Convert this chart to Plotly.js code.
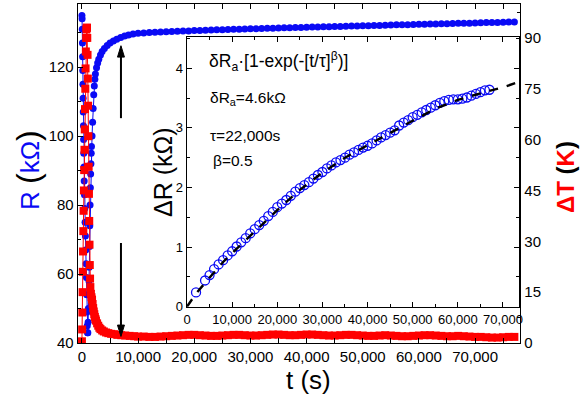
<!DOCTYPE html>
<html>
<head>
<meta charset="utf-8">
<script src="https://cdn.plot.ly/plotly-3.0.1.min.js"></script>
<style>html,body{margin:0;padding:0;background:#fff;}#chart{width:581px;height:403px;}</style>
</head>
<body>
<div id="chart"></div>
<script>
// ---- Main plot: resistance R (kΩ), left axis ----
var rSpikeT = [0,30,60,90,120,150,180,210,240,270,300,330,360,400,450,500,560,620,680,740,800,850,900,950,1000,1050,1100,1150,1200,1250,1300,1350,1400,1450,1500,1550,1600,1650,1700,1800,1900,2000,2100,2200,2300,2400,2600,2800,3000,3300,3600,4000,4500,5000,5600,6200,6900,7600,8300,9100];
var rSpikeR = [135,134,131,127,123,119,115,111,107,103,99,95,91,87,83,79,75,71,67,63,59,54,49,45,43,43,46,50,54,58,62,68,74,80,85,89,92,95,97,100,104,108,112,114.5,116.5,118,119.8,121.2,122.3,123.5,124.5,125.4,126.3,127,127.6,128.1,128.6,129,129.3,129.6];

var tLong = [10000,11000,12000,13000,14000,15000,16000,17000,18000,19000,20000,21000,22000,23000,24000,25000,26000,27000,28000,29000,30000,31000,32000,33000,34000,35000,36000,37000,38000,39000,40000,41000,42000,43000,44000,45000,46000,47000,48000,49000,50000,51000,52000,53000,54000,55000,56000,57000,58000,59000,60000,61000,62000,63000,64000,65000,66000,67000,68000,69000,70000,71000,72000,73000,74000,75000,76000,77000];
var rLong = [129.8,129.9,130.0,130.1,130.2,130.25,130.3,130.4,130.45,130.5,130.6,130.65,130.7,130.75,130.8,130.85,130.9,130.95,131.0,131.05,131.1,131.15,131.2,131.25,131.3,131.35,131.4,131.4,131.45,131.5,131.55,131.6,131.65,131.7,131.7,131.75,131.8,131.85,131.9,131.95,132.0,132.0,132.05,132.1,132.15,132.2,132.25,132.3,132.3,132.35,132.4,132.45,132.5,132.5,132.55,132.6,132.65,132.7,132.7,132.75,132.8,132.85,132.9,132.9,132.95,133.0,133.05,133.1];

// ---- Main plot: temperature rise ΔT (K), right axis ----
var tSpikeT = [0,40,80,120,160,200,250,300,350,400,450,500,550,600,650,700,750,800,850,900,950,1000,1050,1100,1150,1200,1250,1300,1350,1400,1450,1500,1600,1700,1800,1900,2000,2100,2200,2300,2400,2500,2700,2900,3100,3300,3600,3900,4300,4700,5200,5700,6300,7000,7700,8500,9300];
var tSpikeDT = [0.5,4,9,15,21,27,33,39,45,51,57,63,69,75,81,86,90,92.5,93,93,90,85,78,70,61,52,44,36,29,23,19,16.5,14.5,13.5,12.8,11.5,10.3,9.3,8.5,7.7,7.1,6.6,5.8,5.1,4.5,4.1,3.7,3.4,3.1,2.9,2.7,2.6,2.4,2.3,2.2,2.1,2.0];
var dtLong = [1.9,1.9,1.8,1.8,1.9,2.0,2.1,2.2,2.3,2.4,2.4,2.3,2.2,2.1,2.1,2.2,2.3,2.4,2.4,2.3,2.2,2.2,2.3,2.4,2.5,2.5,2.4,2.3,2.3,2.4,2.5,2.5,2.4,2.3,2.2,2.2,2.3,2.4,2.4,2.3,2.2,2.1,2.1,2.2,2.3,2.2,2.1,2.0,2.0,2.1,2.2,2.3,2.3,2.2,2.1,2.0,2.0,2.1,2.0,1.9,1.8,1.8,1.7,1.6,1.6,1.7,1.8,1.8];

// ---- Inset: ΔR (kΩ) vs t ----
var insetT = [2000,4000,5000,6000,7000,8000,9000,10000,11000,12000,13000,14000,15000,16000,17000,18000,19000,20000,21000,22000,23000,24000,25000,26000,27000,28000,29000,30000,31000,32000,33000,34000,35000,36000,37000,38000,39000,40000,41000,42000,43000,44000,45000,46000,47000,48000,49000,50000,51000,52000,53000,54000,55000,56000,57000,58000,59000,60000,61000,62000,63000,64000,65000,66000,67000];
var insetDR = [0.24,0.44,0.53,0.63,0.71,0.78,0.86,0.93,1.01,1.08,1.15,1.23,1.30,1.37,1.44,1.52,1.59,1.67,1.73,1.79,1.86,1.93,1.99,2.04,2.09,2.15,2.21,2.26,2.32,2.37,2.42,2.46,2.50,2.55,2.59,2.63,2.67,2.70,2.74,2.79,2.84,2.88,2.92,2.96,3.04,3.09,3.13,3.18,3.22,3.26,3.30,3.34,3.38,3.42,3.45,3.47,3.48,3.48,3.49,3.51,3.54,3.57,3.60,3.63,3.64];
var fitT  = [0,1000,2000,4000,6000,8000,10000,12000,15000,20000,25000,30000,35000,40000,45000,50000,55000,60000,65000,70000,72700];
var fitDR = [0,0.12,0.22,0.40,0.58,0.75,0.90,1.04,1.26,1.62,1.96,2.25,2.50,2.71,2.92,3.12,3.32,3.47,3.58,3.68,3.75];

var BLUE = '#0a0af5', RED = '#ff0000';
var FONT = 'Arial, "Liberation Sans", sans-serif';

var traces = [
  {x: rSpikeT.concat(tLong), y: rSpikeR.concat(rLong), xaxis:'x', yaxis:'y', mode:'lines+markers', type:'scatter',
   line:{color:BLUE, width:1}, marker:{symbol:'circle', size:7, color:BLUE}},
  {x: tSpikeT.concat(tLong), y: tSpikeDT.concat(dtLong), xaxis:'x', yaxis:'y2', mode:'lines+markers', type:'scatter',
   line:{color:RED, width:1}, marker:{symbol:'square', size:8, color:RED}},
  {x: insetT, y: insetDR, xaxis:'x3', yaxis:'y3', mode:'markers', type:'scatter',
   marker:{symbol:'circle-open', size:9, color:BLUE, line:{width:1.3, color:BLUE}}},
  {x: fitT, y: fitDR, xaxis:'x3', yaxis:'y3', mode:'lines', type:'scatter',
   line:{color:'#000', width:2.4, dash:'dash'}}
];

function px(x){ return (x-78)/442; }
function py(y){ return (343-y)/339; }

var axBase = {showgrid:false, zeroline:false, showline:true, linecolor:'#000', linewidth:1.3,
  ticks:'inside', ticklen:5, tickwidth:1, tickcolor:'#000'};

// arrow positions (annotation geometry, not data)
var arrowT = 6950;

var layout = {
  width:581, height:403,
  margin:{l:78, r:61, t:4, b:60, pad:0},
  paper_bgcolor:'#fff', plot_bgcolor:'#fff',
  showlegend:false,
  font:{family:FONT, size:15, color:'#000'},
  xaxis: Object.assign({}, axBase, {range:[-700,78000], tick0:0, dtick:10000, tickformat:',d', mirror:'allticks',
    tickfont:{size:15}, minor:{dtick:5000, ticks:'inside', ticklen:3, tickcolor:'#000', showgrid:false}}),
  yaxis: Object.assign({}, axBase, {range:[40,138.3], tick0:40, dtick:20, tickfont:{size:15},
    minor:{dtick:10, ticks:'inside', ticklen:3, tickcolor:'#000', showgrid:false}}),
  yaxis2: Object.assign({}, axBase, {overlaying:'y', side:'right', range:[0,100], tick0:0, dtick:15, tickfont:{size:15},
    minor:{dtick:7.5, ticks:'inside', ticklen:3, tickcolor:'#000', showgrid:false}}),
  xaxis3: Object.assign({}, axBase, {domain:[px(187), px(519)], anchor:'y3', range:[0,73550], tick0:0, dtick:10000,
    tickformat:',d', mirror:'allticks', tickfont:{size:13},
    minor:{dtick:5000, ticks:'inside', ticklen:3, tickcolor:'#000', showgrid:false}}),
  yaxis3: Object.assign({}, axBase, {domain:[py(306.7), py(37)], anchor:'x3', range:[0,4.525], tick0:0, dtick:1,
    mirror:'allticks', tickfont:{size:13},
    minor:{dtick:0.5, ticks:'inside', ticklen:3, tickcolor:'#000', showgrid:false}}),
  shapes: [
    {type:'line', xref:'x', yref:'y', x0:arrowT, x1:arrowT, y0:105.2, y1:123.6, line:{color:'#000', width:2}},
    {type:'path', xref:'x', yref:'y', path:'M '+arrowT+' 126.2 L '+(arrowT-620)+' 122.9 L '+(arrowT+620)+' 122.9 Z',
     fillcolor:'#000', line:{color:'#000', width:1}},
    {type:'line', xref:'x', yref:'y', x0:arrowT, x1:arrowT, y0:69, y1:44.6, line:{color:'#000', width:2}},
    {type:'path', xref:'x', yref:'y', path:'M '+arrowT+' 41.9 L '+(arrowT-620)+' 45.2 L '+(arrowT+620)+' 45.2 Z',
     fillcolor:'#000', line:{color:'#000', width:1}}
  ],
  annotations: [
    {xref:'paper', yref:'paper', x:px(28), y:py(170), textangle:-90, showarrow:false, xanchor:'center', yanchor:'middle',
     text:'<span style="color:'+BLUE+'">R</span> <span style="font-size:32px">(</span><span style="color:'+BLUE+'">kΩ</span><span style="font-size:32px">)</span>',
     font:{size:26, family:FONT, color:'#000'}},
    {xref:'paper', yref:'paper', x:px(565), y:py(177), textangle:-90, showarrow:false, xanchor:'center', yanchor:'middle',
     text:'<b><span style="color:'+RED+'">ΔT</span> (<span style="color:'+RED+'">K</span>)</b>',
     font:{size:24, family:FONT, color:'#000'}},
    {xref:'paper', yref:'paper', x:px(308), y:py(380), showarrow:false, xanchor:'center', yanchor:'middle',
     text:'t (s)', font:{size:26, family:FONT, color:'#000'}},
    {xref:'paper', yref:'paper', x:px(163), y:py(172), textangle:-90, showarrow:false, xanchor:'center', yanchor:'middle',
     text:'ΔR (kΩ)', font:{size:25, family:FONT, color:'#000'}},
    {xref:'paper', yref:'paper', x:px(207), y:py(62), showarrow:false, xanchor:'left', yanchor:'middle',
     text:'δR<sub>a</sub>·[1-exp(-[t/τ]<sup>β</sup>)]', font:{size:17.5, family:FONT, color:'#000'}},
    {xref:'paper', yref:'paper', x:px(208), y:py(98), showarrow:false, xanchor:'left', yanchor:'middle',
     text:'δR<sub>a</sub>=4.6kΩ', font:{size:15.5, family:FONT, color:'#000'}},
    {xref:'paper', yref:'paper', x:px(208), y:py(135), showarrow:false, xanchor:'left', yanchor:'middle',
     text:'τ=22,000s', font:{size:15.5, family:FONT, color:'#000'}},
    {xref:'paper', yref:'paper', x:px(211), y:py(160), showarrow:false, xanchor:'left', yanchor:'middle',
     text:'β=0.5', font:{size:15.5, family:FONT, color:'#000'}}
  ]
};

Plotly.newPlot('chart', traces, layout, {displayModeBar:false, staticPlot:true});
</script>
</body>
</html>
